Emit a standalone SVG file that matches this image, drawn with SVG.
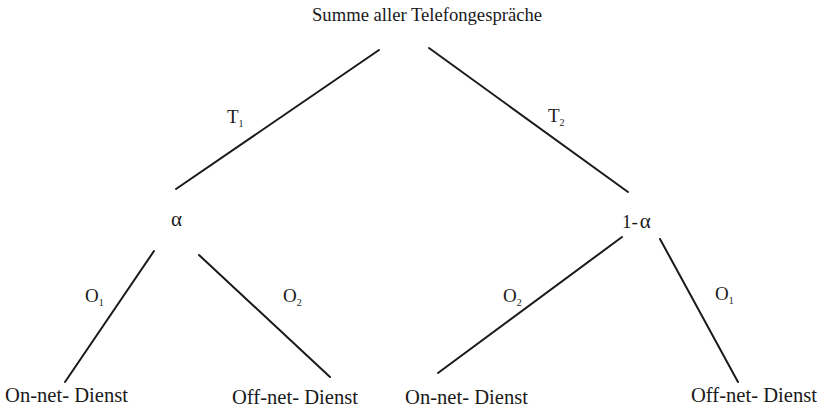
<svg xmlns="http://www.w3.org/2000/svg" width="824" height="408" viewBox="0 0 824 408">
<style>
  text { font-family: "Liberation Serif", "Times New Roman", serif; fill: #1a1a1a; }
  .lbl { font-size: 21px; }
  .title { font-size: 19px; }
  .var { font-size: 19px; }
  .greek { font-size: 21px; }
  .sub { font-size: 10px; }
  .edge { stroke: #1a1a1a; stroke-width: 2; stroke-linecap: round; fill: none; }
</style>
<rect width="824" height="408" fill="#ffffff"/>
<g id="root">
  <text class="title" x="312" y="21" textLength="230" lengthAdjust="spacingAndGlyphs">Summe aller Telefongespräche</text>
</g>
<g id="alpha">
  <text class="greek" x="171" y="226">α</text>
</g>
<g id="one-minus-alpha">
  <text class="var" x="622" y="228">1-<tspan class="greek" dx="2">α</tspan></text>
</g>
<g id="leaf-left-on">
  <text class="lbl" x="5" y="402" textLength="123" lengthAdjust="spacingAndGlyphs">On-net- Dienst</text>
</g>
<g id="leaf-left-off">
  <text class="lbl" x="232" y="404" textLength="126" lengthAdjust="spacingAndGlyphs">Off-net- Dienst</text>
</g>
<g id="leaf-right-on">
  <text class="lbl" x="405" y="404" textLength="123" lengthAdjust="spacingAndGlyphs">On-net- Dienst</text>
</g>
<g id="leaf-right-off">
  <text class="lbl" x="691" y="402" textLength="126" lengthAdjust="spacingAndGlyphs">Off-net- Dienst</text>
</g>
<g id="connectors">
  <line class="edge" x1="379" y1="50" x2="176" y2="189"/>
  <line class="edge" x1="429" y1="48" x2="628" y2="192"/>
  <line class="edge" x1="154" y1="251" x2="65" y2="382"/>
  <line class="edge" x1="199" y1="255" x2="330" y2="377"/>
  <line class="edge" x1="622" y1="237" x2="438" y2="373"/>
  <line class="edge" x1="660" y1="239" x2="738" y2="382"/>
  <text class="var" x="227" y="123">T<tspan class="sub" dy="4">1</tspan></text>
  <text class="var" x="548" y="122">T<tspan class="sub" dy="4">2</tspan></text>
  <text class="var" x="85" y="302">O<tspan class="sub" dy="4">1</tspan></text>
  <text class="var" x="283" y="302">O<tspan class="sub" dy="4">2</tspan></text>
  <text class="var" x="503" y="302">O<tspan class="sub" dy="4">2</tspan></text>
  <text class="var" x="715" y="300">O<tspan class="sub" dy="4">1</tspan></text>
</g>
</svg>
